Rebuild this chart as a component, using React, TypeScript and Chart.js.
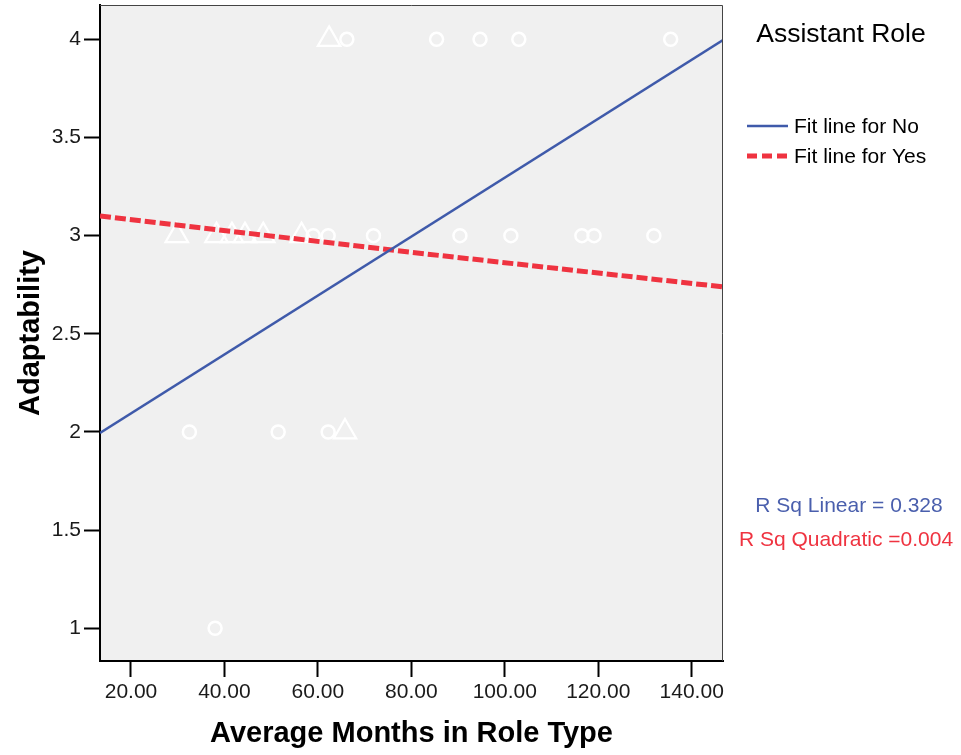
import React, { useEffect, useRef } from "react";
import { Chart, registerables } from "chart.js";

Chart.register(...registerables);

// Scatter points: "No" (circles) and "Yes" (triangles)
const noX = [66.2, 85.4, 94.7, 103.0, 135.5, 59.0, 62.2, 71.9, 90.4, 101.3, 116.5, 119.1, 131.9, 32.5, 51.5, 62.2, 38.0];
const noY = [4, 4, 4, 4, 4, 3, 3, 3, 3, 3, 3, 3, 3, 2, 2, 2, 1];
const yesX = [62.4, 29.8, 38.3, 41.6, 44.4, 48.3, 56.5, 65.8];
const yesY = [4, 3, 3, 3, 3, 3, 3, 2];

// Fit lines
const fitNoX = [13.37, 146.7];
const fitNoY = [1.995, 3.997];
const fitYesX = [13.37, 80.0, 146.7];
const fitYesY = [3.1, 2.915, 2.739];

// Axes
const xTicks = [20, 40, 60, 80, 100, 120, 140];
const yTicks = [1, 1.5, 2, 2.5, 3, 3.5, 4];
const xMin = 13.37;
const xMax = 146.7;
const yMin = 0.833;
const yMax = 4.175;

const legendTitle = "Assistant Role";
const legendLabels = ["Fit line for No", "Fit line for Yes"];
const rsqLabels = ["R Sq Linear = 0.328", "R Sq Quadratic =0.004"];

const BLUE = "#3f5aaa";
const RED = "#ef3340";
const FONT = "'Liberation Sans', Arial, sans-serif";

const pts = (xs: number[], ys: number[]) => xs.map((x, i) => ({ x, y: ys[i] }));

const decorPlugin = {
  id: "decor",
  beforeDraw(chart: any) {
    const { ctx, chartArea: a } = chart;
    ctx.save();
    ctx.fillStyle = "#f0f0f0";
    ctx.fillRect(a.left, a.top, a.right - a.left, a.bottom - a.top);
    ctx.restore();
  },
  afterDraw(chart: any) {
    const { ctx, chartArea: a } = chart;
    ctx.save();
    // top & right frame
    ctx.strokeStyle = "#444";
    ctx.lineWidth = 1;
    ctx.beginPath();
    ctx.moveTo(a.left, a.top + 0.5);
    ctx.lineTo(a.right - 0.5, a.top + 0.5);
    ctx.lineTo(a.right - 0.5, a.bottom);
    ctx.stroke();

    // legend
    ctx.fillStyle = "#000";
    ctx.textBaseline = "middle";
    ctx.textAlign = "center";
    ctx.font = `26.5px ${FONT}`;
    ctx.fillText(legendTitle, 841, 35);

    ctx.textAlign = "left";
    ctx.font = `21px ${FONT}`;
    ctx.fillText(legendLabels[0], 794, 127);
    ctx.fillText(legendLabels[1], 794, 157);

    ctx.strokeStyle = BLUE;
    ctx.lineWidth = 2.5;
    ctx.setLineDash([]);
    ctx.beginPath();
    ctx.moveTo(747, 126);
    ctx.lineTo(788, 126);
    ctx.stroke();

    ctx.strokeStyle = RED;
    ctx.lineWidth = 5;
    ctx.setLineDash([10, 5]);
    ctx.beginPath();
    ctx.moveTo(747, 156);
    ctx.lineTo(788, 156);
    ctx.stroke();
    ctx.setLineDash([]);

    // R squared
    ctx.textAlign = "center";
    ctx.font = `21px ${FONT}`;
    ctx.fillStyle = "#4a5fad";
    ctx.fillText(rsqLabels[0], 849, 506);
    ctx.fillStyle = RED;
    ctx.fillText(rsqLabels[1], 846, 540);
    ctx.restore();
  },
};

export default function App() {
  const ref = useRef<HTMLCanvasElement | null>(null);

  useEffect(() => {
    if (!ref.current) return;
    const chart = new Chart(ref.current, {
      type: "scatter",
      data: {
        datasets: [
          {
            label: legendLabels[0],
            data: pts(fitNoX, fitNoY),
            showLine: true,
            borderColor: BLUE,
            borderWidth: 2.5,
            pointRadius: 0,
            order: 0,
          },
          {
            label: legendLabels[1],
            data: pts(fitYesX, fitYesY),
            showLine: true,
            borderColor: RED,
            borderWidth: 5,
            borderDash: [11, 4],
            pointRadius: 0,
            order: 0,
          },
          {
            label: "No",
            data: pts(noX, noY),
            pointStyle: "circle",
            pointRadius: 6.5,
            borderColor: "#ffffff",
            backgroundColor: "rgba(0,0,0,0)",
            borderWidth: 2.5,
            order: 1,
          },
          {
            label: "Yes",
            data: pts(yesX, yesY),
            pointStyle: "triangle",
            pointRadius: 13,
            borderColor: "#ffffff",
            backgroundColor: "rgba(0,0,0,0)",
            borderWidth: 2.2,
            order: 1,
          },
        ],
      },
      options: {
        animation: false,
        responsive: false,
        maintainAspectRatio: false,
        layout: { autoPadding: false, padding: { top: 5, right: 238, left: 0, bottom: 0 } },
        plugins: {
          legend: { display: false },
          tooltip: { enabled: false },
        },
        scales: {
          x: {
            type: "linear",
            min: xMin,
            max: xMax,
            afterBuildTicks: (s: any) => {
              s.ticks = xTicks.map((v) => ({ value: v }));
            },
            afterFit: (s: any) => {
              s.height = 94;
              s.paddingLeft = 0;
              s.paddingRight = 0;
            },
            grid: {
              drawOnChartArea: false,
              drawTicks: true,
              tickLength: 16,
              tickColor: "#000",
              tickWidth: 2,
            },
            border: { display: true, color: "#000", width: 2 },
            ticks: {
              color: "#1a1a1a",
              font: { family: FONT, size: 21 },
              padding: 3,
              maxRotation: 0,
              autoSkip: false,
              callback: (v: any) => Number(v).toFixed(2),
            },
            title: {
              display: true,
              text: "Average Months in Role Type",
              color: "#000",
              font: { family: FONT, size: 29, weight: "bold" },
              padding: { top: 0, bottom: 4 },
            },
          },
          y: {
            type: "linear",
            min: yMin,
            max: yMax,
            afterBuildTicks: (s: any) => {
              s.ticks = yTicks.map((v) => ({ value: v }));
            },
            afterFit: (s: any) => {
              s.width = 100;
              s.paddingTop = 0;
              s.paddingBottom = 0;
            },
            grid: {
              drawOnChartArea: false,
              drawTicks: true,
              tickLength: 16,
              tickColor: "#000",
              tickWidth: 2,
            },
            border: { display: true, color: "#000", width: 2 },
            ticks: {
              color: "#1a1a1a",
              font: { family: FONT, size: 21 },
              padding: 3,
              autoSkip: false,
              callback: (v: any) => String(v),
            },
            title: {
              display: true,
              text: "Adaptability",
              color: "#000",
              font: { family: FONT, size: 29, weight: "bold" },
              padding: { top: 14, bottom: 0 },
            },
          },
        },
      },
      plugins: [decorPlugin],
    });
    return () => chart.destroy();
  }, []);

  return (
    <div style={{ position: "fixed", left: 0, top: 0, width: 961, height: 755, background: "#fff" }}>
      <canvas ref={ref} width={961} height={755} style={{ width: 961, height: 755, display: "block" }} />
    </div>
  );
}
